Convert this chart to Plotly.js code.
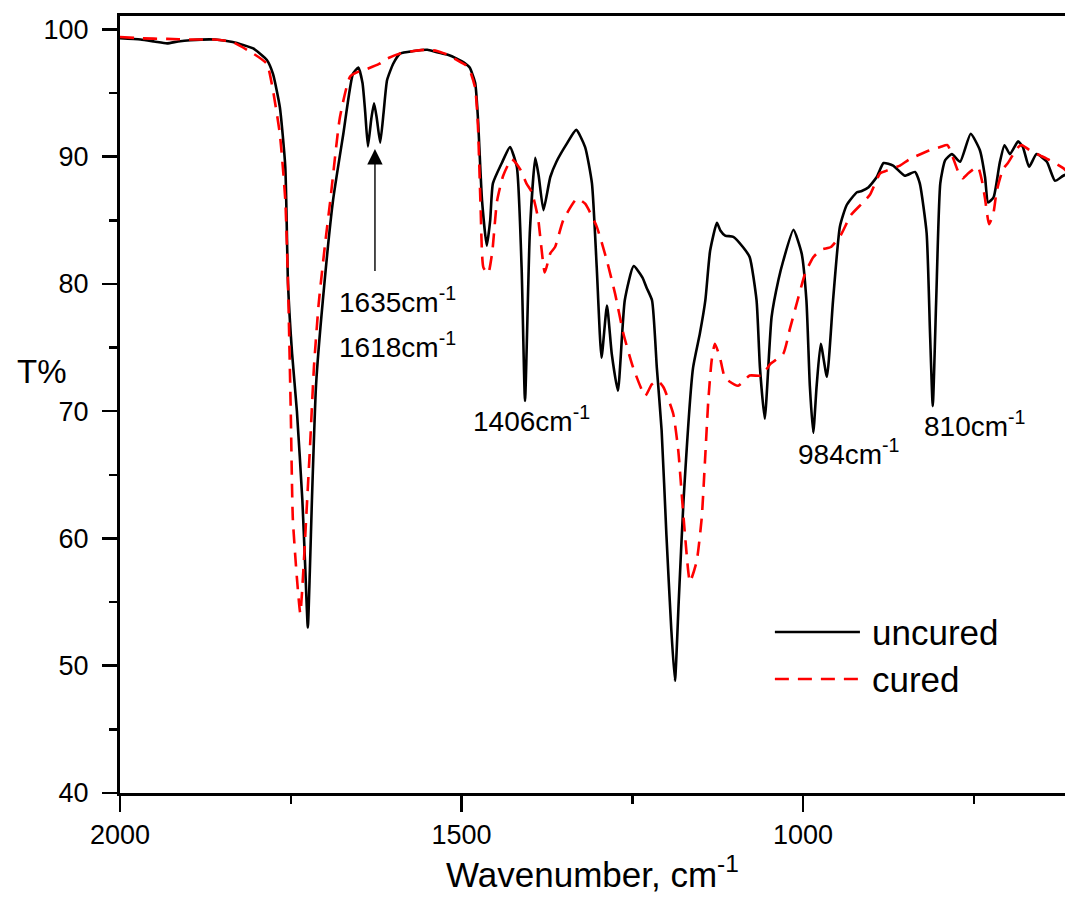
<!DOCTYPE html>
<html>
<head>
<meta charset="utf-8">
<script src="https://cdn.plot.ly/plotly-3.0.1.min.js"></script>
<style>html,body{margin:0;padding:0;background:#fff;}#chart{width:1065px;height:897px;}</style>
</head>
<body>
<div id="chart"></div>
<script>
// Wavenumber (cm-1) and transmittance (%)
const uncuredWN = [2000,1970,1950,1931,1915,1897,1861,1835,1805,1785,1776,1766,1758,1754,1748,1741,1733,1729,1725,1722,1719,1713,1703,1688,1673,1659,1651,1645,1641,1637,1632,1628,1624,1619,1614,1609,1600,1590,1570,1550,1536,1520,1507,1494,1488,1480,1476,1470,1463,1458,1454,1441,1429,1419,1412,1407,1400,1392,1387,1380,1370,1361,1346,1332,1319,1309,1302,1295,1287,1280,1271,1261,1248,1235,1229,1221,1214,1207,1200,1193,1187.5,1182,1175,1161,1151,1143,1136,1126,1121,1114,1102,1088,1078,1068,1063,1056,1046,1036,1029,1014,1002,995,990,985,980,974,965,956,946,936,921,914,904,892,882,868,851,836,829,819,814,810,805,799,792,782,770,754.5,741,733.5,729,721,712,705,697,685,678,669,658,643,631,619,609];
const uncuredT = [99.3,99.2,99.05,98.9,99.05,99.15,99.2,99.0,98.5,97.6,96.5,93.9,89.2,80.0,74.5,70.0,63.0,58.0,53.0,57.5,63.0,72.0,78.7,86.6,91.8,96.5,97.0,95.8,93.5,90.8,93.0,94.2,93.0,91.1,93.5,96.0,97.3,98.1,98.3,98.4,98.2,98.0,97.7,97.3,97.0,95.8,93.1,86.6,83.0,85.0,87.9,89.5,90.75,89.2,81.3,70.8,84.0,89.9,88.5,85.8,88.4,89.6,91.0,92.1,90.75,87.9,81.3,74.2,78.3,74.5,71.6,78.7,81.4,80.5,79.7,78.7,73.4,68.5,60.3,53.0,48.8,55.0,62.9,73.4,76.1,78.7,82.6,84.8,84.2,83.8,83.7,82.9,82.1,78.7,73.4,69.4,77.4,80.3,81.8,84.25,82.4,78.7,72.0,68.3,72.0,75.3,72.7,78.7,84.5,86.2,87.2,87.3,87.6,88.4,89.5,89.3,88.5,88.8,87.9,84.0,76.1,70.4,78.7,87.9,89.7,90.2,89.6,91.8,90.5,88.4,86.4,86.8,89.5,90.9,90.2,91.2,90.75,89.2,90.2,89.6,88.1,88.5,88.7];

const curedWN = [2000,1970,1931,1897,1861,1835,1805,1785,1776,1766,1758,1754,1750,1747,1741,1736,1731,1727,1722,1716,1709,1700,1692,1678,1663,1650,1638,1620,1609,1590,1570,1550,1536,1520,1507,1494,1488,1480,1476,1472,1468,1461,1455,1448,1439,1426.5,1414,1405,1397,1388,1378,1370,1363,1351,1331,1319,1302,1287,1275,1263,1248.5,1231,1221.5,1213,1204.5,1190,1182.6,1177.6,1172.8,1165.5,1155.7,1148.3,1143.5,1138.7,1133.7,1129,1121.5,1114,1095,1078,1060.5,1048,1029,1019,1009,997,985,973,959,944,930,914,902,887,877.5,858,844,819,799,788.5,781,772.6,766,758,744,738,733.5,727.6,721.4,716.4,707,700,692,684,679,668,653,638,619,609];
const curedT = [99.4,99.3,99.25,99.2,99.2,99.0,98.1,97.3,95.2,91.8,86.6,80.0,70.0,61.6,56.9,54.1,58.0,62.0,67.0,73.5,78.5,83.0,86.6,93.1,96.3,96.7,96.9,97.3,97.7,98.1,98.3,98.4,98.3,98.0,97.6,97.2,96.8,95.4,92.5,86.0,81.3,80.8,82.5,86.5,88.5,89.8,89.0,87.9,87.2,85.2,80.9,82.4,82.9,85.0,86.7,86.3,84.5,81.8,79.2,76.1,73.4,71.2,72.1,72.4,71.9,69.8,66.9,63.5,60.3,56.6,58.2,61.6,66.1,70.8,74.0,75.3,74.2,72.6,72.0,72.8,72.8,73.7,74.5,76.5,78.5,80.8,82.1,82.7,82.9,83.9,85.4,86.3,87.0,88.7,88.9,89.3,89.8,90.4,90.75,90.9,90.0,88.8,88.3,88.7,89.2,88.1,86.7,84.7,85.5,87.3,89.05,89.5,90.2,90.8,90.9,90.5,90.1,89.7,89.1,88.6];

const seriesNames = ['uncured', 'cured'];
const peakLabels = [
  {wn: 1396.8, t: 69.4, text: '1406cm<sup>-1</sup>'},
  {wn: 932.7, t: 66.8, text: '984cm<sup>-1</sup>'},
  {wn: 748.2, t: 69.0, text: '810cm<sup>-1</sup>'},
  {wn: 1594.4, t: 78.7, text: '1635cm<sup>-1</sup>'},
  {wn: 1594.4, t: 75.2, text: '1618cm<sup>-1</sup>'}
];
const arrowWN = 1626.7, arrowTipT = 90.6, arrowTailT = 80.9;

const FONT = 'Arial, "Liberation Sans", sans-serif';

const traces = [
  {x: uncuredWN, y: uncuredT, name: seriesNames[0], type: 'scatter', mode: 'lines',
   line: {color: '#000000', width: 2.6, shape: 'spline', smoothing: 0.5}},
  {x: curedWN, y: curedT, name: seriesNames[1], type: 'scatter', mode: 'lines',
   line: {color: '#ff0000', width: 2.6, dash: '14px,9px', shape: 'spline', smoothing: 0.5}}
];

const annotations = peakLabels.map(p => ({
  x: p.wn, y: p.t, xref: 'x', yref: 'y', text: p.text, showarrow: false,
  xanchor: 'center', yanchor: 'middle', font: {family: FONT, size: 28, color: '#000'}
}));
annotations.push({
  x: arrowWN, y: arrowTipT, ax: arrowWN, ay: arrowTailT, xref: 'x', yref: 'y',
  axref: 'x', ayref: 'y', text: '', showarrow: true, arrowhead: 2, arrowsize: 2.2,
  arrowwidth: 1.4, arrowcolor: '#000'
});
annotations.push({
  x: -0.0825, y: 0.543, xref: 'paper', yref: 'paper', text: 'T%', showarrow: false,
  xanchor: 'center', yanchor: 'middle', font: {family: FONT, size: 33, color: '#000'}
});
// legend
annotations.push({x: 0.7937, y: 0.2072, xref: 'paper', yref: 'paper', text: seriesNames[0],
  showarrow: false, xanchor: 'left', yanchor: 'middle', font: {family: FONT, size: 35, color: '#000'}});
annotations.push({x: 0.7937, y: 0.1467, xref: 'paper', yref: 'paper', text: seriesNames[1],
  showarrow: false, xanchor: 'left', yanchor: 'middle', font: {family: FONT, size: 35, color: '#000'}});

const shapes = [
  {type: 'line', xref: 'paper', yref: 'paper', x0: 0.693, x1: 0.783, y0: 0.2072, y1: 0.2072,
   line: {color: '#000', width: 2.6}},
  {type: 'line', xref: 'paper', yref: 'paper', x0: 0.693, x1: 0.783, y0: 0.1467, y1: 0.1467,
   line: {color: '#ff0000', width: 2.6, dash: '14px,9px'}}
];

const layout = {
  width: 1065, height: 897,
  margin: {l: 120, r: 0, t: 16, b: 104},
  paper_bgcolor: '#ffffff', plot_bgcolor: '#ffffff',
  showlegend: false,
  font: {family: FONT, color: '#000'},
  xaxis: {
    range: [2000, 616.4], tickmode: 'linear', tick0: 0, dtick: 500,
    ticks: 'outside', ticklen: 16, tickwidth: 2.5, tickcolor: '#000',
    minor: {dtick: 250, tick0: 0, ticks: 'outside', ticklen: 8, tickwidth: 2.5, tickcolor: '#000', showgrid: false},
    showline: true, linewidth: 3, linecolor: '#000', mirror: true,
    showgrid: false, zeroline: false,
    tickfont: {family: FONT, size: 27, color: '#000'},
    title: {text: 'Wavenumber, cm<sup>-1</sup>', font: {family: FONT, size: 35, color: '#000'}, standoff: 2}
  },
  yaxis: {
    range: [40, 101.05], tickmode: 'linear', tick0: 0, dtick: 10,
    ticks: 'outside', ticklen: 15, tickwidth: 2.5, tickcolor: '#000',
    minor: {dtick: 5, tick0: 0, ticks: 'outside', ticklen: 8, tickwidth: 2.5, tickcolor: '#000', showgrid: false},
    showline: true, linewidth: 3, linecolor: '#000', mirror: false,
    showgrid: false, zeroline: false, ticklabelstandoff: 8,
    tickfont: {family: FONT, size: 27, color: '#000'}
  },
  annotations: annotations,
  shapes: shapes
};

Plotly.newPlot('chart', traces, layout, {staticPlot: true, displayModeBar: false});
</script>
</body>
</html>
